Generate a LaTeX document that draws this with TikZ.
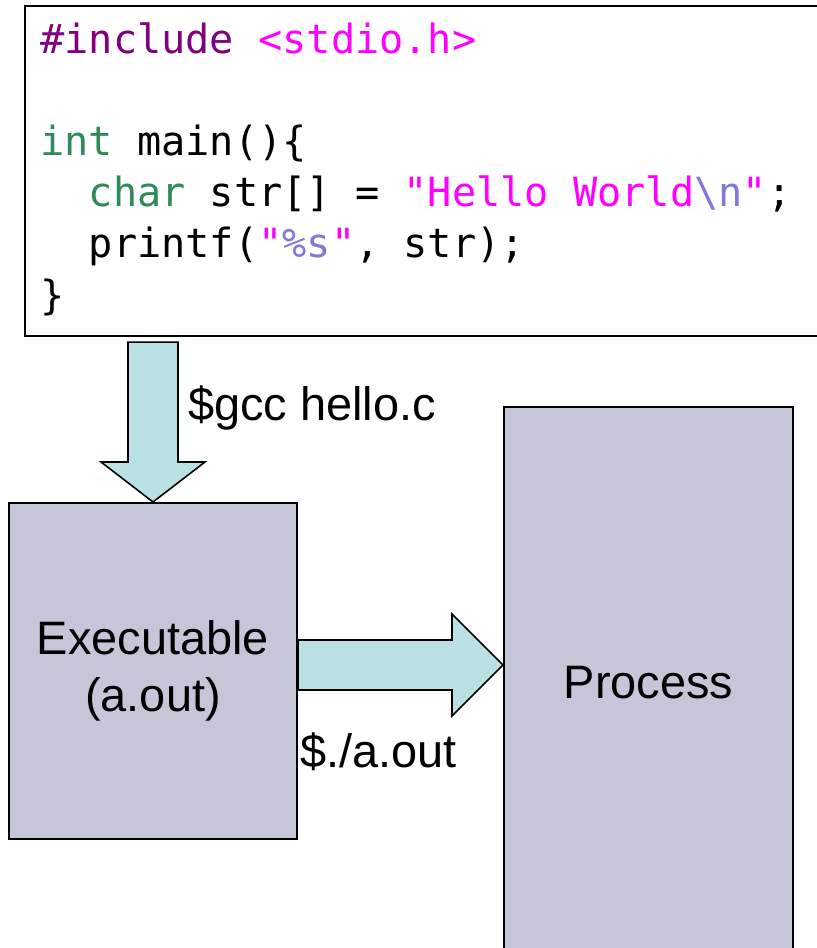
\documentclass[tikz,border=0pt]{standalone}
\usepackage{fontspec}
\setmainfont{Liberation Sans}
\newfontfamily\codefont{DejaVu Sans Mono}
\usetikzlibrary{positioning,calc}
\definecolor{boxgray}{RGB}{198,198,217}
\definecolor{arrowcyan}{RGB}{185,224,227}
\definecolor{kwgreen}{RGB}{46,139,87}
\definecolor{ppurple}{RGB}{128,0,128}
\definecolor{strpink}{RGB}{255,0,255}
\definecolor{escviolet}{RGB}{128,120,220}

\begin{document}
\begin{tikzpicture}[x=0.02cm, y=-0.02cm,
        box/.style={draw, rectangle, fill=boxgray, line width=1.2pt, font=\fontsize{26.7}{32.3}\selectfont, align=center},
        bigarrow/.style={draw, fill=arrowcyan, line width=0.9pt, line join=miter},
        cmdtext/.style={font=\fontsize{26.7}{32.3}\selectfont, inner sep=0pt}
    ]
        \useasboundingbox (0,0) rectangle (817,948);
        \clip (0,0) rectangle (817,948);

        % Source file
        \node[draw, line width=1.2pt, minimum width=16.3cm, minimum height=6.6cm, anchor=north west] (code) at (24,5) {};
        \node[anchor=base west, inner sep=0pt, align=left, font=\codefont\fontsize{22.9}{29.1}\selectfont] (src) at (40,309) {%
            {\color{ppurple}\#include} {\color{strpink}<stdio.h>}\\[29.1pt]
            {\color{kwgreen}int} main()\{\\
            \ \ {\color{kwgreen}char} str[] = {\color{strpink}"Hello World}{\color{escviolet}\textbackslash n}{\color{strpink}"};\\
            \ \ printf({\color{strpink}"}{\color{escviolet}\%s}{\color{strpink}"}, str);\\
            \}};

        % Executable and process
        \node[box, minimum width=5.76cm, minimum height=6.72cm] (exe) at (153,671) {Executable\\(a.out)};
        \node[box, minimum width=5.78cm, minimum height=11.04cm] (proc) at (648.5,683) {Process};

        % Compile arrow
        \coordinate (gccs) at ($(exe.north |- code.south)+(0,5)$);
        \draw[bigarrow] ($(gccs)+(-25,0)$) -- ($(gccs)+(25,0)$) -- ($(exe.north)+(25,-40)$) -- ($(exe.north)+(52,-40)$)
            -- (exe.north) -- ($(exe.north)+(-52,-40)$) -- ($(exe.north)+(-25,-40)$) -- cycle;
        \node[cmdtext, anchor=base west] (gcc) at (188,420) {\$gcc hello.c};

        % Run arrow
        \coordinate (runs) at ($(exe.east)+(0,-6)$);
        \coordinate (runtip) at (proc.west |- runs);
        \draw[bigarrow] ($(runs)+(0,-25)$) -- ($(runtip)+(-51,-25)$) -- ($(runtip)+(-51,-51)$) -- (runtip)
            -- ($(runtip)+(-51,51)$) -- ($(runtip)+(-51,25)$) -- ($(runs)+(0,25)$) -- cycle;
        \node[cmdtext, anchor=base west] (run) at (300,767) {\$./a.out};
    \end{tikzpicture}
\end{document}
